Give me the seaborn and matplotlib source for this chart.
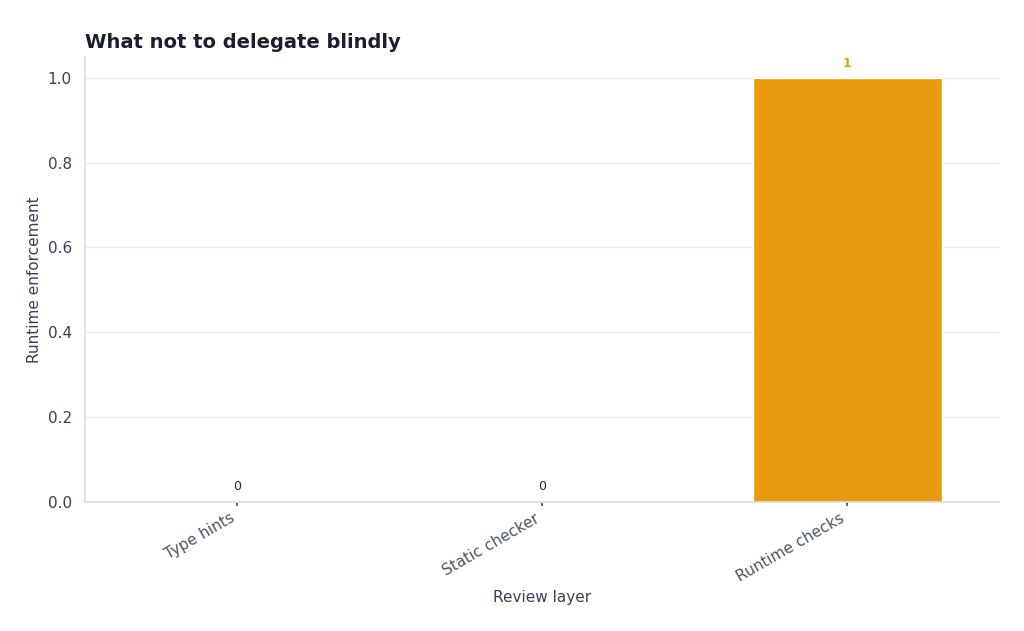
import matplotlib
matplotlib.use("Agg")
import matplotlib.pyplot as plt
import seaborn as sns
import pandas as pd

categories = ["Type hints", "Static checker", "Runtime checks"]
values = [0, 0, 1]
label_colors = ["#1f2937", "#1f2937", "#e89b0c"]

sns.set_theme(style="whitegrid")
plt.rcParams['font.family'] = ['DejaVu Sans']
df = pd.DataFrame({"layer": categories, "val": values})
fig, ax = plt.subplots(figsize=(10.24, 6.31), dpi=100)
sns.barplot(data=df, x="layer", y="val", color="#e89b0c", width=0.62, ax=ax, saturation=1)
ax.set_ylim(0, 1.05)
for i, v in enumerate(values):
    ax.text(i, v + 0.02, f"{v}", ha="center", va="bottom", fontsize=9,
            color=label_colors[i], fontweight="bold" if v else "normal")
ax.set_title("What not to delegate blindly", loc="left", fontsize=14, fontweight="bold", color="#1a1f2e")
ax.set_xlabel("Review layer", fontsize=11, color="#374151")
ax.set_ylabel("Runtime enforcement", fontsize=11, color="#374151")
ax.grid(axis="x", visible=False)
ax.grid(axis="y", color="#ececec")
for s in ["top", "right"]:
    ax.spines[s].set_visible(False)
for s in ["left", "bottom"]:
    ax.spines[s].set_color("#dddddd")
ax.tick_params(axis="x", colors="#4b5563", length=3, bottom=True)
ax.tick_params(axis="y", colors="#374151")
plt.setp(ax.get_xticklabels(), rotation=30, ha="right")
fig.subplots_adjust(left=0.083, right=0.976, top=0.91, bottom=0.205)
fig.savefig("out.png")
